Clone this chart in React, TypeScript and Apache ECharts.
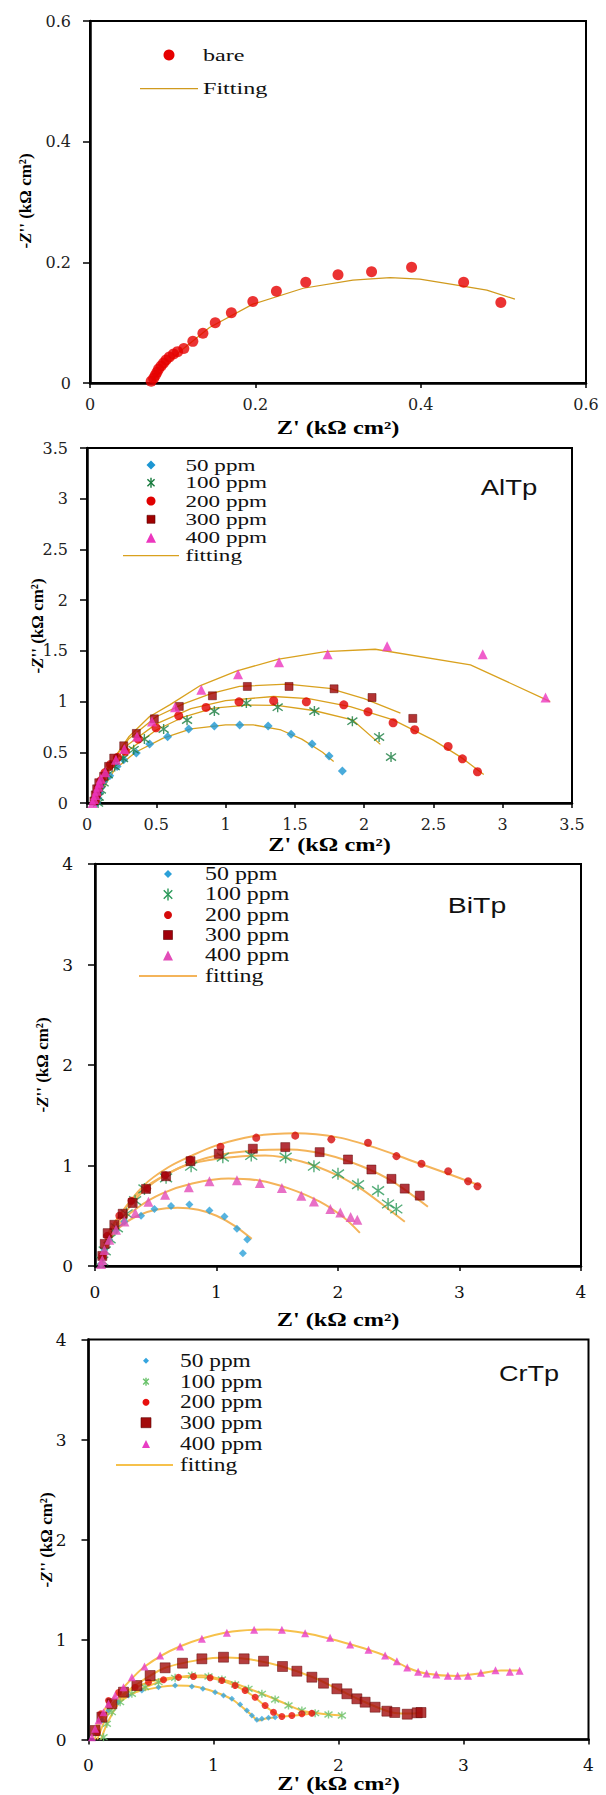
import React, { useEffect, useRef } from "react";
import * as echarts from "echarts";

type P = [number, number];

// ---------- Panel 1 : bare ----------
const bare: P[] = [
  [0.074, 0.003], [0.077, 0.008], [0.079, 0.013], [0.081, 0.018], [0.083, 0.023], [0.086, 0.028],
  [0.089, 0.033], [0.092, 0.038], [0.096, 0.043], [0.101, 0.048], [0.106, 0.052], [0.1135, 0.057],
  [0.1244, 0.069], [0.1366, 0.0825], [0.1515, 0.0997], [0.171, 0.1163], [0.197, 0.135], [0.2255, 0.152],
  [0.261, 0.167], [0.3, 0.1795], [0.3406, 0.1845], [0.389, 0.1917], [0.452, 0.167], [0.497, 0.1335],
];
const bareFit: P[] = [
  [0.074, 0.002], [0.108, 0.0515], [0.1446, 0.092], [0.197, 0.1307], [0.258, 0.157], [0.318, 0.1706],
  [0.363, 0.1745], [0.399, 0.1723], [0.44, 0.163], [0.48, 0.154], [0.514, 0.139],
];

// ---------- Panel 2 : AlTp ----------
const al50: P[] = [
  [0.07, 0.0], [0.08, 0.05], [0.09, 0.1], [0.1, 0.15], [0.12, 0.21], [0.164, 0.269], [0.217, 0.361],
  [0.265, 0.427], [0.356, 0.492], [0.452, 0.581], [0.582, 0.653], [0.734, 0.729], [0.919, 0.758],
  [1.102, 0.768], [1.307, 0.758], [1.473, 0.679], [1.624, 0.581], [1.747, 0.463], [1.843, 0.315],
];
const al50Fit: P[] = [
  [0.07, 0], [0.12, 0.15], [0.2, 0.33], [0.35, 0.5], [0.55, 0.64], [0.75, 0.73], [1.0, 0.77],
  [1.2, 0.77], [1.4, 0.72], [1.55, 0.63], [1.7, 0.5], [1.78, 0.41],
];
const al100: P[] = [
  [0.08, 0.0], [0.085, 0.06], [0.1, 0.13], [0.12, 0.2], [0.15, 0.28], [0.2, 0.36], [0.26, 0.44],
  [0.337, 0.525], [0.414, 0.63], [0.553, 0.729], [0.722, 0.817], [0.919, 0.906], [1.15, 0.985],
  [1.376, 0.945], [1.641, 0.906], [1.915, 0.807], [2.108, 0.65], [2.194, 0.453],
];
const al100Fit: P[] = [
  [0.07, 0], [0.15, 0.3], [0.3, 0.52], [0.5, 0.72], [0.7, 0.85], [0.914, 0.935], [1.155, 0.965],
  [1.37, 0.962], [1.636, 0.912], [1.915, 0.82], [2.117, 0.578],
];
const al200: P[] = [
  [0.06, 0.02], [0.07, 0.08], [0.08, 0.14], [0.1, 0.22], [0.13, 0.3], [0.17, 0.38], [0.22, 0.45],
  [0.277, 0.509], [0.37, 0.63], [0.498, 0.742], [0.662, 0.86], [0.859, 0.942], [1.097, 0.998],
  [1.347, 1.008], [1.583, 0.998], [1.853, 0.968], [2.028, 0.899], [2.209, 0.791], [2.365, 0.722],
  [2.606, 0.558], [2.709, 0.436], [2.818, 0.308],
];
const al200Fit: P[] = [
  [0.06, 0], [0.15, 0.33], [0.3, 0.58], [0.5, 0.78], [0.75, 0.93], [1.0, 1.01], [1.347, 1.05],
  [1.6, 1.03], [1.9, 0.95], [2.21, 0.82], [2.5, 0.62], [2.7, 0.45], [2.863, 0.282],
];
const al300: P[] = [
  [0.05, 0.02], [0.06, 0.08], [0.07, 0.14], [0.085, 0.2], [0.12, 0.263], [0.156, 0.361], [0.193, 0.443],
  [0.265, 0.564], [0.356, 0.686], [0.486, 0.83], [0.666, 0.952], [0.905, 1.057], [1.157, 1.149],
  [1.458, 1.149], [1.783, 1.126], [2.057, 1.04], [2.351, 0.834],
];
const al300Fit: P[] = [
  [0.05, 0], [0.15, 0.35], [0.3, 0.63], [0.5, 0.85], [0.7, 0.98], [0.9, 1.08], [1.1, 1.15],
  [1.444, 1.172], [1.75, 1.13], [2.0, 1.03], [2.262, 0.886],
];
const al400: P[] = [
  [0.04, 0.0], [0.05, 0.04], [0.06, 0.08], [0.07, 0.12], [0.08, 0.16], [0.09, 0.2], [0.1, 0.24],
  [0.132, 0.302], [0.209, 0.427], [0.269, 0.532], [0.361, 0.656], [0.469, 0.804], [0.635, 0.945],
  [0.825, 1.116], [1.09, 1.27], [1.386, 1.388], [1.737, 1.467], [2.166, 1.546], [2.856, 1.467], [3.309, 1.04],
];
const al400Fit: P[] = [
  [0.05, 0], [0.12, 0.25], [0.2, 0.45], [0.3, 0.65], [0.45, 0.85], [0.6, 0.97], [0.818, 1.158],
  [1.083, 1.303], [1.384, 1.418], [1.72, 1.493], [2.08, 1.516], [2.767, 1.362], [3.343, 1.0],
];

// ---------- Panel 3 : BiTp ----------
const bi50: P[] = [
  [0.05, 0.02], [0.06, 0.08], [0.077, 0.16], [0.118, 0.26], [0.173, 0.353], [0.242, 0.443], [0.379, 0.5],
  [0.489, 0.567], [0.626, 0.597], [0.777, 0.613], [0.942, 0.553], [1.066, 0.493], [1.168, 0.37],
  [1.253, 0.263], [1.217, 0.127],
];
const bi50Fit: P[] = [
  [0.05, 0], [0.1, 0.2], [0.2, 0.38], [0.35, 0.5], [0.5, 0.56], [0.68, 0.58], [0.85, 0.56], [1.0, 0.5],
  [1.15, 0.4], [1.29, 0.27],
];
const bi100: P[] = [
  [0.06, 0.05], [0.08, 0.15], [0.12, 0.27], [0.18, 0.38], [0.26, 0.52], [0.33, 0.65], [0.407, 0.767],
  [0.585, 0.877], [0.791, 0.993], [1.052, 1.083], [1.286, 1.1], [1.569, 1.083], [1.802, 0.993],
  [2.0, 0.917], [2.165, 0.81], [2.33, 0.75], [2.412, 0.617], [2.48, 0.567],
];
const bi100Fit: P[] = [
  [0.05, 0], [0.1, 0.25], [0.2, 0.45], [0.4, 0.75], [0.6, 0.92], [0.8, 1.02], [1.1, 1.08], [1.4, 1.1],
  [1.7, 1.04], [2.0, 0.9], [2.2, 0.76], [2.4, 0.58], [2.55, 0.44],
];
const bi200: P[] = [
  [0.06, 0.1], [0.1, 0.3], [0.2, 0.5], [0.3, 0.65], [0.43, 0.77], [0.577, 0.903], [0.783, 1.06],
  [1.033, 1.187], [1.327, 1.277], [1.648, 1.297], [1.945, 1.26], [2.247, 1.227], [2.481, 1.093],
  [2.687, 1.017], [2.907, 0.943], [3.071, 0.843], [3.148, 0.793],
];
const bi200Fit: P[] = [
  [0.05, 0], [0.1, 0.28], [0.2, 0.5], [0.4, 0.8], [0.6, 0.98], [0.8, 1.1], [1.0, 1.2], [1.3, 1.29],
  [1.65, 1.32], [2.0, 1.28], [2.3, 1.18], [2.6, 1.05], [2.9, 0.92], [3.17, 0.8],
];
const bi300: P[] = [
  [0.06, 0.1], [0.08, 0.22], [0.104, 0.327], [0.159, 0.41], [0.228, 0.52], [0.31, 0.627], [0.42, 0.767],
  [0.585, 0.893], [0.786, 1.043], [1.019, 1.117], [1.299, 1.167], [1.566, 1.183], [1.849, 1.133],
  [2.082, 1.06], [2.275, 0.96], [2.44, 0.867], [2.549, 0.77], [2.673, 0.7],
];
const bi300Fit: P[] = [
  [0.05, 0], [0.1, 0.3], [0.2, 0.5], [0.4, 0.77], [0.6, 0.92], [0.8, 1.03], [1.0, 1.1], [1.3, 1.15],
  [1.6, 1.16], [1.9, 1.11], [2.2, 0.99], [2.45, 0.84], [2.74, 0.59],
];
const bi400: P[] = [
  [0.05, 0.02], [0.06, 0.06], [0.077, 0.16], [0.118, 0.26], [0.173, 0.36], [0.242, 0.443], [0.332, 0.527],
  [0.44, 0.64], [0.577, 0.71], [0.772, 0.783], [0.942, 0.843], [1.168, 0.853], [1.357, 0.827],
  [1.538, 0.777], [1.698, 0.7], [1.802, 0.643], [1.937, 0.567], [2.019, 0.533], [2.104, 0.487], [2.159, 0.46],
];
const bi400Fit: P[] = [
  [0.05, 0], [0.1, 0.22], [0.2, 0.42], [0.35, 0.58], [0.55, 0.72], [0.8, 0.82], [1.1, 0.87], [1.35, 0.85],
  [1.6, 0.77], [1.85, 0.64], [2.05, 0.48], [2.18, 0.33],
];

// ---------- Panel 4 : CrTp ----------
const cr50: P[] = [
  [0.053, 0.057], [0.107, 0.19], [0.16, 0.29], [0.24, 0.373], [0.32, 0.44], [0.427, 0.49], [0.56, 0.523],
  [0.693, 0.54], [0.827, 0.53], [0.915, 0.507], [1.013, 0.473], [1.08, 0.44], [1.147, 0.407],
  [1.213, 0.35], [1.267, 0.29], [1.307, 0.24], [1.347, 0.197], [1.387, 0.207], [1.44, 0.217], [1.493, 0.223],
];
const cr50Fit: P[] = [
  [0.05, 0], [0.1, 0.18], [0.2, 0.34], [0.35, 0.46], [0.55, 0.52], [0.7, 0.54], [0.85, 0.53], [1.0, 0.48],
  [1.15, 0.4], [1.3, 0.25], [1.36, 0.19], [1.42, 0.21], [1.49, 0.22],
];
const cr100: P[] = [
  [0.12, 0.023], [0.147, 0.157], [0.187, 0.273], [0.253, 0.373], [0.347, 0.457], [0.453, 0.523],
  [0.56, 0.573], [0.693, 0.617], [0.827, 0.64], [0.96, 0.63], [1.067, 0.6], [1.173, 0.55], [1.28, 0.507],
  [1.387, 0.457], [1.493, 0.4], [1.6, 0.34], [1.707, 0.29], [1.813, 0.263], [1.92, 0.25], [2.027, 0.24],
];
const cr100Fit: P[] = [
  [0.1, 0], [0.15, 0.16], [0.25, 0.37], [0.45, 0.52], [0.7, 0.62], [0.9, 0.64], [1.1, 0.59], [1.3, 0.5],
  [1.5, 0.4], [1.7, 0.29], [1.85, 0.26], [2.03, 0.24],
];
const cr200: P[] = [
  [0.07, 0.07], [0.1, 0.257], [0.16, 0.39], [0.24, 0.47], [0.373, 0.523], [0.48, 0.573], [0.6, 0.597],
  [0.72, 0.623], [0.84, 0.63], [0.973, 0.617], [1.067, 0.59], [1.173, 0.54], [1.253, 0.49], [1.333, 0.423],
  [1.413, 0.34], [1.48, 0.273], [1.547, 0.23], [1.627, 0.24], [1.707, 0.257], [1.787, 0.263],
];
const cr200Fit: P[] = [
  [0.07, 0], [0.16, 0.26], [0.3, 0.46], [0.5, 0.58], [0.75, 0.625], [0.95, 0.62], [1.15, 0.55],
  [1.3, 0.45], [1.45, 0.3], [1.55, 0.23], [1.65, 0.24], [1.79, 0.26],
];
const cr300: P[] = [
  [0.053, 0.09], [0.107, 0.223], [0.187, 0.357], [0.28, 0.473], [0.387, 0.54], [0.493, 0.64],
  [0.613, 0.717], [0.752, 0.763], [0.907, 0.807], [1.08, 0.823], [1.245, 0.807], [1.4, 0.783],
  [1.552, 0.73], [1.667, 0.683], [1.787, 0.623], [1.88, 0.563], [1.987, 0.507], [2.067, 0.457],
  [2.147, 0.407], [2.213, 0.373], [2.293, 0.323], [2.387, 0.283], [2.45, 0.27], [2.55, 0.253],
  [2.63, 0.267], [2.66, 0.27],
];
const cr300Fit: P[] = [
  [0.05, 0.05], [0.11, 0.22], [0.2, 0.37], [0.35, 0.52], [0.6, 0.71], [0.9, 0.8], [1.1, 0.82], [1.3, 0.8],
  [1.55, 0.73], [1.8, 0.62], [2.0, 0.5], [2.2, 0.38], [2.4, 0.28], [2.5, 0.26], [2.6, 0.26], [2.66, 0.27],
];
const cr400: P[] = [
  [0.027, 0.023], [0.053, 0.107], [0.08, 0.19], [0.12, 0.273], [0.16, 0.357], [0.213, 0.44], [0.28, 0.523],
  [0.347, 0.623], [0.448, 0.73], [0.573, 0.84], [0.733, 0.93], [0.907, 1.007], [1.107, 1.067],
  [1.325, 1.097], [1.547, 1.097], [1.733, 1.063], [1.933, 1.017], [2.093, 0.95], [2.24, 0.897],
  [2.373, 0.84], [2.467, 0.783], [2.55, 0.72], [2.637, 0.677], [2.705, 0.66], [2.782, 0.65],
  [2.875, 0.637], [2.953, 0.637], [3.036, 0.637], [3.139, 0.667], [3.256, 0.693], [3.371, 0.677], [3.449, 0.687],
];
const cr400Fit: P[] = [
  [0.03, 0.02], [0.08, 0.19], [0.16, 0.36], [0.28, 0.52], [0.45, 0.73], [0.73, 0.93], [1.1, 1.07],
  [1.43, 1.1], [1.75, 1.06], [2.1, 0.95], [2.37, 0.84], [2.55, 0.72], [2.7, 0.66], [2.95, 0.635],
  [3.15, 0.665], [3.3, 0.69], [3.45, 0.69],
];

const ppmNames = ["50 ppm", "100 ppm", "200 ppm", "300 ppm", "400 ppm"];
const panelTags = ["AlTp", "BiTp", "CrTp"];
const axisTitleX = "Z' (kΩ cm²)";

const ASTERISK = "path://M10 0L10 20M2.9 2.9L17.1 17.1M2.9 17.1L17.1 2.9";
const SERIF = '"Liberation Serif", "Times New Roman", serif';
const SANS = '"Liberation Sans", Arial, sans-serif';

type Kind = "diamond" | "asterisk" | "circle" | "rect" | "triangle";
const kinds: Kind[] = ["diamond", "asterisk", "circle", "rect", "triangle"];

interface PanelStyle {
  colors: string[];
  sizes: number[];
  fit: string;
  fitWidth: number;
  smooth: boolean | number;
}

const st2: PanelStyle = {
  colors: ["#1c96d2", "#157a3c", "#e00000", "#a00000", "#ec36be"],
  sizes: [9, 10, 9, 8, 10],
  fit: "#d9a11e",
  fitWidth: 1.3,
  smooth: false,
};
const st3: PanelStyle = {
  colors: ["#2ca0d8", "#2a9858", "#d50a0a", "#a0000a", "#e24cb8"],
  sizes: [8, 12, 8, 9, 10],
  fit: "#f4b45a",
  fitWidth: 2,
  smooth: 0.3,
};
const st4: PanelStyle = {
  colors: ["#35a5df", "#69c26a", "#e8100e", "#a30d0d", "#e83cc4"],
  sizes: [6, 8, 7, 10, 8],
  fit: "#f6c14b",
  fitWidth: 2,
  smooth: 0.3,
};

function symbolOf(k: Kind): string {
  if (k === "asterisk") return ASTERISK;
  return k;
}

function scatter(name: string, data: P[], idx: number, k: Kind, size: number, color: string) {
  const isAst = k === "asterisk";
  return {
    type: "scatter",
    name,
    xAxisIndex: idx,
    yAxisIndex: idx,
    data,
    symbol: symbolOf(k),
    symbolSize: size,
    z: 3,
    itemStyle: isAst
      ? { color: "rgba(0,0,0,0)", borderColor: color, borderWidth: 1.4 }
      : k === "rect"
      ? { color, borderColor: "#5a0000", borderWidth: 0.6 }
      : { color },
  };
}

function fitLine(name: string, data: P[], idx: number, color: string, width: number, smooth: boolean | number) {
  return {
    type: "line",
    name,
    xAxisIndex: idx,
    yAxisIndex: idx,
    data,
    symbol: "none",
    showSymbol: false,
    smooth,
    z: 2,
    lineStyle: { color, width },
  };
}

function xAxis(idx: number, max: number, interval: number, margin: number, size: number, color: string) {
  return {
    type: "value",
    gridIndex: idx,
    min: 0,
    max,
    interval,
    axisLine: { show: true, onZero: false, lineStyle: { color: "#000", width: 2.5 } },
    axisTick: { show: true, inside: false, length: 5, lineStyle: { color: "#000", width: 1.5 } },
    splitLine: { show: false },
    axisLabel: { margin, fontFamily: '"DejaVu Serif", serif', fontSize: size, color },
  };
}
function yAxis(idx: number, max: number, interval: number, margin: number, size: number, color: string) {
  return {
    type: "value",
    gridIndex: idx,
    min: 0,
    max,
    interval,
    axisLine: { show: true, onZero: false, lineStyle: { color: "#000", width: 2.5 } },
    axisTick: { show: true, inside: false, length: 7, lineStyle: { color: "#000", width: 1.5 } },
    splitLine: { show: false },
    axisLabel: { margin, fontFamily: '"DejaVu Serif", serif', fontSize: size, color },
  };
}

function textEl(text: string, x: number, y: number, font: string, align: string, scaleX = 1, fill = "#000") {
  return {
    type: "text",
    x,
    y,
    scaleX,
    z: 10,
    style: {
      text,
      font,
      fill,
      align,
      textAlign: align,
      verticalAlign: "middle",
      textVerticalAlign: "middle",
    },
  };
}

function yTitle(x: number, y: number) {
  const base = { fontFamily: SERIF, fontSize: 17, fontWeight: "bold", fill: "#000" };
  return {
    type: "text",
    x,
    y,
    rotation: Math.PI / 2,
    z: 10,
    style: {
      text: "{n|-}{i|Z}{n|'' (kΩ cm²)}",
      align: "center",
      textAlign: "center",
      verticalAlign: "middle",
      textVerticalAlign: "middle",
      rich: {
        n: { ...base },
        i: { ...base, fontStyle: "italic" },
      },
    },
  };
}

function markerEl(k: Kind, cx: number, cy: number, s: number, color: string): any {
  const h = s / 2;
  switch (k) {
    case "diamond":
      return { type: "polygon", z: 10, shape: { points: [[cx, cy - h], [cx + h, cy], [cx, cy + h], [cx - h, cy]] }, style: { fill: color } };
    case "circle":
      return { type: "circle", z: 10, shape: { cx, cy, r: h }, style: { fill: color } };
    case "rect":
      return { type: "rect", z: 10, shape: { x: cx - h, y: cy - h, width: s, height: s }, style: { fill: color, stroke: "#5a0000", lineWidth: 0.6 } };
    case "triangle":
      return { type: "polygon", z: 10, shape: { points: [[cx, cy - h], [cx + h, cy + h], [cx - h, cy + h]] }, style: { fill: color } };
    case "asterisk": {
      const d = h * 0.71;
      const ls = { stroke: color, lineWidth: 1.4 };
      return {
        type: "group",
        z: 10,
        children: [
          { type: "line", z: 10, shape: { x1: cx, y1: cy - h, x2: cx, y2: cy + h }, style: ls },
          { type: "line", z: 10, shape: { x1: cx - d, y1: cy - d, x2: cx + d, y2: cy + d }, style: ls },
          { type: "line", z: 10, shape: { x1: cx - d, y1: cy + d, x2: cx + d, y2: cy - d }, style: ls },
        ],
      };
    }
  }
}

function legendEls(
  st: PanelStyle,
  markerX: number,
  textX: number,
  rows: number[],
  lineX1: number,
  lineX2: number,
  fontSize: number,
  scaleX: number,
  fitLabel: string
) {
  const els: any[] = [];
  const font = `${fontSize}px ${SERIF}`;
  kinds.forEach((k, i) => {
    els.push(markerEl(k, markerX, rows[i], st.sizes[i], st.colors[i]));
    els.push(textEl(ppmNames[i], textX, rows[i], font, "left", scaleX, "#111"));
  });
  els.push({ type: "line", z: 10, shape: { x1: lineX1, y1: rows[5], x2: lineX2, y2: rows[5] }, style: { stroke: st.fit, lineWidth: st.fitWidth } });
  els.push(textEl(fitLabel, textX, rows[5], font, "left", scaleX, "#111"));
  return els;
}

function buildOption() {
  const grids = [
    { left: 90, top: 21, width: 496, height: 362 },
    { left: 87, top: 448, width: 485, height: 355 },
    { left: 95, top: 864, width: 486, height: 402 },
    { left: 88.5, top: 1339.5, width: 500, height: 400 },
  ].map((g) => ({ ...g, show: true, borderColor: "#000", borderWidth: 2, backgroundColor: "transparent" }));

  const xAxes = [
    xAxis(0, 0.6, 0.2, 13, 16, "#222"),
    xAxis(1, 3.5, 0.5, 13, 16, "#222"),
    xAxis(2, 4, 1, 17, 17, "#111"),
    xAxis(3, 4, 1, 17, 17, "#111"),
  ];
  const yAxes = [
    yAxis(0, 0.6, 0.2, 19, 16, "#222"),
    yAxis(1, 3.5, 0.5, 19, 16, "#222"),
    yAxis(2, 4, 1, 22, 17, "#111"),
    yAxis(3, 4, 1, 22, 17, "#111"),
  ];

  const series: any[] = [];
  series.push(fitLine("Fitting", bareFit, 0, "#d09a1e", 1.2, false));
  series.push(scatter("bare", bare, 0, "circle", 11, "#e60000"));

  const sets: [P[][], P[][], PanelStyle][] = [
    [[al50, al100, al200, al300, al400], [al50Fit, al100Fit, al200Fit, al300Fit, al400Fit], st2],
    [[bi50, bi100, bi200, bi300, bi400], [bi50Fit, bi100Fit, bi200Fit, bi300Fit, bi400Fit], st3],
    [[cr50, cr100, cr200, cr300, cr400], [cr50Fit, cr100Fit, cr200Fit, cr300Fit, cr400Fit], st4],
  ];
  sets.forEach(([pts, fits, st], j) => {
    const idx = j + 1;
    fits.forEach((f, i) => series.push(fitLine("fitting " + ppmNames[i], f, idx, st.fit, st.fitWidth, st.smooth)));
    pts.forEach((p, i) => series.push(scatter(ppmNames[i], p, idx, kinds[i], st.sizes[i], st.colors[i])));
  });

  const titleFont = `bold 18px ${SERIF}`;
  const tagFont = `22px ${SANS}`;
  const graphics: any[] = [
    // panel 1 legend
    { type: "circle", z: 10, shape: { cx: 169, cy: 55, r: 5.5 }, style: { fill: "#e60000" } },
    textEl("bare", 203, 55, `17px ${SERIF}`, "left", 1.42, "#111"),
    { type: "line", z: 10, shape: { x1: 140, y1: 88.7, x2: 198, y2: 88.7 }, style: { stroke: "#d09a1e", lineWidth: 1.3 } },
    textEl("Fitting", 203, 88.7, `17px ${SERIF}`, "left", 1.42, "#111"),
    // legends for panels 2-4
    ...legendEls(st2, 151, 185.5, [465, 482.7, 501, 519.3, 537.7, 555.7], 123, 179, 16.5, 1.4, "fitting"),
    ...legendEls(st3, 168, 205, [874, 894.5, 915, 935, 955.5, 976], 139, 197, 18, 1.33, "fitting"),
    ...legendEls(st4, 146, 180, [1360.7, 1381.7, 1402.3, 1422.7, 1444, 1465], 116, 173, 18, 1.3, "fitting"),
    // tags
    textEl(panelTags[0], 509, 487, tagFont, "center", 1.25, "#111"),
    textEl(panelTags[1], 477, 905, tagFont, "center", 1.29, "#111"),
    textEl(panelTags[2], 529, 1373, tagFont, "center", 1.23, "#111"),
    // axis titles
    textEl(axisTitleX, 338, 428, titleFont, "center", 1.35),
    textEl(axisTitleX, 329.5, 845, titleFont, "center", 1.35),
    textEl(axisTitleX, 338, 1320, titleFont, "center", 1.35),
    textEl(axisTitleX, 338.5, 1784, titleFont, "center", 1.35),
    yTitle(25, 201),
    yTitle(37, 626),
    yTitle(42.5, 1065),
    yTitle(46, 1540),
  ];

  return {
    animation: false,
    backgroundColor: "#fff",
    grid: grids,
    xAxis: xAxes,
    yAxis: yAxes,
    series,
    graphic: { elements: graphics },
  };
}

export default function App() {
  const ref = useRef<HTMLDivElement>(null);
  useEffect(() => {
    if (!ref.current) return;
    const chart = echarts.init(ref.current, null, { renderer: "svg" });
    chart.setOption(buildOption() as any);
    return () => chart.dispose();
  }, []);
  return <div ref={ref} style={{ position: "absolute", left: 0, top: 0, width: 606, height: 1795 }} />;
}
